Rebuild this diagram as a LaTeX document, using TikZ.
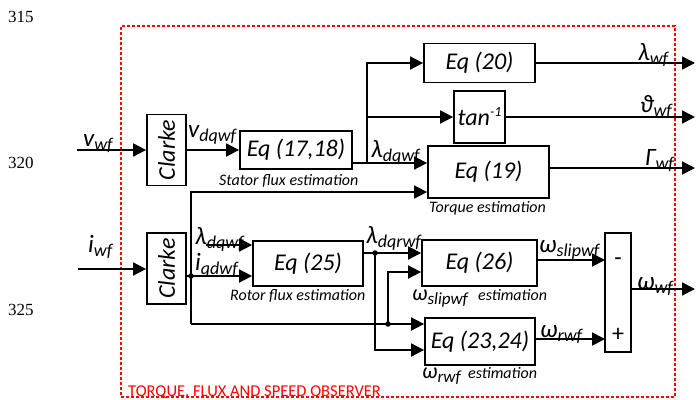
\documentclass[tikz,border=0pt]{standalone}
\usepackage{fontspec}
\usepackage{graphicx}
\setmainfont{Carlito}
\newfontfamily\serifnum{Liberation Serif}
\usetikzlibrary{arrows.meta}
\newcommand{\sy}[2]{{\fontsize{25}{30}\selectfont #1}\raisebox{-4pt}{\fontsize{18}{20}\selectfont #2}}
\newcommand{\syc}[2]{{\fontsize{22}{26}\selectfont #1}\raisebox{-4pt}{\fontsize{17}{20}\selectfont #2}}
\tikzset{
 blk/.style={draw, line width=1.8pt, inner sep=0pt, font=\fontsize{24}{28}\selectfont\itshape},
 arr/.style={line width=1.8pt, -{Triangle[length=13pt,width=13pt]}},
 lbl/.style={inner sep=0pt, anchor=base west, font=\itshape},
 capt/.style={inner sep=0pt, anchor=base west, font=\fontsize{16}{18}\selectfont\itshape},
 dot/.style={circle, fill, inner sep=0pt, minimum size=5.5pt},
 lnum/.style={inner sep=0pt, anchor=base west, font=\serifnum\fontsize{17}{20}\selectfont},
}
\begin{document}
\begin{tikzpicture}[x=1pt,y=-1pt]
\useasboundingbox (0,0) rectangle (696,399);
% observer frame
\node[draw=red, line width=1.5pt, dash pattern=on 3pt off 2pt, minimum width=554pt, minimum height=371pt, inner sep=0pt] (obs) at (398,211.5) {};
\node[inner sep=0pt, anchor=base west, text=red, font=\fontsize{16.5}{18}\selectfont] (title) at (128,396) {TORQUE, FLUX AND SPEED OBSERVER};
% line numbers
\node[lnum] (n315) at (8,22) {315};
\node[lnum] (n320) at (8,168) {320};
\node[lnum] (n325) at (8,315) {325};
% blocks
\node[blk, minimum width=39pt, minimum height=71pt] (clA) at (166.5,150) {\rotatebox{90}{Clarke}};
\node[blk, minimum width=39pt, minimum height=71pt] (clB) at (166.5,268.5) {\rotatebox{90}{Clarke}};
\node[blk, minimum width=112pt, minimum height=38pt] (e1718) at (296,150) {Eq (17,18)};
\node[blk, minimum width=111pt, minimum height=39pt] (e20) at (479.5,63) {Eq (20)};
\node[blk, minimum width=51pt, minimum height=52pt] (tan) at (479.5,117) {tan\raisebox{9pt}{\fontsize{14}{16}\selectfont -1}};
\node[blk, minimum width=121pt, minimum height=52pt] (e19) at (488.5,172) {Eq (19)};
\node[blk, minimum width=110pt, minimum height=45pt] (e25) at (308,263.5) {Eq (25)};
\node[blk, minimum width=115pt, minimum height=46pt] (e26) at (479.5,263) {Eq (26)};
\node[blk, minimum width=110pt, minimum height=47pt] (e2324) at (480,341.5) {Eq (23,24)};
\node[blk, minimum width=26pt, minimum height=119pt] (sum) at (618,292.5) {};
\node[inner sep=0pt, font=\fontsize{24}{28}\selectfont] (minus) at (618,262) {-};
\node[inner sep=0pt, font=\fontsize{24}{28}\selectfont] (plus) at (618,335) {+};
% coordinates
\coordinate (outx) at (695,0);
\coordinate (vin) at (77,150);
\coordinate (iin) at (78,269);
\coordinate (j1) at (367,163);
\coordinate (ctop) at (191,192);
\coordinate (cbot) at (191,324);
\coordinate (d1) at (191,276);
\coordinate (lf) at (206,245);
\coordinate (d2) at (375,253);
\coordinate (l350) at (375,350);
\coordinate (d3) at (388,324);
\coordinate (k1) at (388,272);
\coordinate (s1) at (605,260);
\coordinate (s2) at (605,339);
\coordinate (s3) at (631,289);
\coordinate (s4) at (549,168);
% connectors
\draw[arr] (vin) -- (clA.west);
\draw[arr] (iin) -- (clB.west |- iin);
\draw[arr] (clA.east) -- (e1718.west);
\draw[arr] (e1718.east |- j1) -- (e19.west |- j1);
\draw[arr] (j1) |- (e20.west);
\draw[arr] (j1 |- tan.west) -- (tan.west);
\draw[arr] (e20.east) -- (e20.east -| outx);
\draw[arr] (tan.east) -- (tan.east -| outx);
\draw[arr] (e19.east |- s4) -- (outx |- s4);
\draw[arr] (cbot) -- (ctop) -- (e19.west |- ctop);
\draw[arr] (cbot) -- (e2324.west |- cbot);
\draw[arr] (clB.east |- d1) -- (e25.west |- d1);
\draw[arr] (lf) -- (e25.west |- lf);
\draw[arr] (e25.east |- d2) -- (e26.west |- d2);
\draw[arr] (d2) -- (l350) -- (e2324.west |- l350);
\draw[arr] (d3) -- (k1) -- (e26.west |- k1);
\draw[arr] (e26.east |- s1) -- (s1);
\draw[arr] (e2324.east |- s2) -- (s2);
\draw[arr] (s3) -- (outx |- s3);
\node[dot] (dot1) at (d1) {};
\node[dot] (dot2) at (d2) {};
\node[dot] (dot3) at (d3) {};
% signal labels
\node[lbl] (lv) at (83,146) {\sy{v}{wf}};
\node[lbl] (li) at (88,252) {\sy{i}{wf}};
\node[lbl] (lvdq) at (188,137) {\sy{v}{dqwf}};
\node[lbl] (llam1) at (371,157) {\sy{λ}{dqwf}};
\node[lbl] (llamwf) at (638,60) {\sy{λ}{wf}};
\node[lbl] (lth) at (640,112) {\sy{ϑ}{wf}};
\node[lbl] (lgam) at (645,165) {\sy{Γ}{wf}};
\node[lbl] (llam2) at (195,244) {\sy{λ}{dqwf}};
\node[lbl] (liqd) at (195,270) {\sy{i}{qdwf}};
\node[lbl] (llamr) at (366,243) {\sy{λ}{dqrwf}};
\node[lbl] (lwslip) at (539,252) {\sy{ω}{slipwf}};
\node[lbl] (lwr) at (540,337) {\sy{ω}{rwf}};
\node[lbl] (lwwf) at (637,289) {\sy{ω}{wf}};
% captions
\node[capt] (cst) at (219,185) {Stator flux estimation};
\node[capt] (ctq) at (429,212) {Torque estimation};
\node[capt] (crt) at (230,300) {Rotor flux estimation};
\node[lbl] (cslw) at (412,300) {\syc{ω}{slipwf}};
\node[capt] (csl) at (478,300) {estimation};
\node[lbl] (crww) at (422,378) {\syc{ω}{rwf}};
\node[capt] (crw) at (468,378) {estimation};
\end{tikzpicture}
\end{document}
